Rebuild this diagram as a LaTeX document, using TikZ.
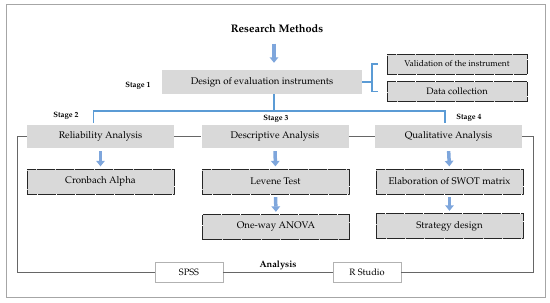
\documentclass[tikz,border=0pt]{standalone}
\usepackage[T1]{fontenc}
\usepackage{mathpazo}
\usetikzlibrary{arrows.meta}
\definecolor{arrowblue}{HTML}{7EA6DC}
\definecolor{lineblue}{HTML}{5B9BD5}
\begin{document}
\begin{tikzpicture}[
    x=0.4mm, y=-0.4mm,
    box/.style={fill=gray!30, minimum width=58.8mm, minimum height=9.2mm, inner sep=1pt, font=\fontsize{11}{13}\selectfont},
    res/.style={box, draw=black!85, line width=0.35pt, dash pattern=on 0.6pt off 0.6pt, minimum height=10mm},
    side/.style={res, minimum width=56mm, minimum height=8mm, font=\fontsize{9.6}{11}\selectfont},
    tool/.style={draw=gray!60, fill=white, minimum width=27mm, minimum height=8mm, font=\fontsize{10.5}{12}\selectfont},
    stage/.style={font=\fontsize{8.8}{10}\selectfont\bfseries},
    flow/.style={-{Triangle[length=2.2mm, width=3.4mm]}, line width=1.4mm, arrowblue},
    tree/.style={lineblue, line width=0.5mm},
    frame/.style={gray!80!black, line width=0.35mm},
]
\useasboundingbox (0,0) rectangle (550,302);
\draw[gray!70, line width=0.35mm] (6,4) rectangle (545,297);

% Stage 1
\node[font=\fontsize{12.5}{15}\selectfont\bfseries] (title) at (277,29) {Research Methods};
\node[box, minimum width=80mm, minimum height=9.6mm] (design) at (262,82) {Design of evaluation instruments};
\node[stage] (s1) at (138,86) {Stage 1};
\node[side] (valid) at (457,64) {Validation of the instrument};
\node[side, font=\fontsize{10.6}{12}\selectfont] (datac) at (457,91.5) {Data collection};
\draw[flow, shorten <=3mm, shorten >=2.8mm] (title.south -| 274,0) -- (design.north -| 274,0);
\coordinate (brk) at (372,82);
\draw[tree] (design.east) -- (brk);
\draw[tree] ([xshift=-3.6mm]valid.west) -| (brk) |- ([xshift=-3.6mm]datac.west);

% Stages 2 to 4
\node[box] (rel) at (100.5,136.5) {Reliability Analysis};
\node[box] (desc) at (275,136.5) {Descriptive Analysis};
\node[box] (qual) at (448.5,136.5) {Qualitative Analysis};
\node[stage] (s2) at (66,116) {Stage 2};
\node[stage] (s3) at (276,119) {Stage 3};
\node[stage] (s4) at (469,118) {Stage 4};
\coordinate (split) at (274,111);
\draw[tree] (design.south -| split) -- (split);
\draw[tree] ([xshift=-2.8mm, yshift=0.8mm]rel.north) |- (split) -| ([xshift=-1.4mm, yshift=0.8mm]qual.north);

% Results
\node[res] (cron) at (100.5,181.5) {Cronbach Alpha};
\node[res] (lev) at (275.5,181.5) {Levene Test};
\node[res] (swot) at (449.5,181.5) {Elaboration of SWOT matrix};
\node[res] (anova) at (276,227) {One-way ANOVA};
\node[res] (strat) at (449.5,226) {Strategy design};
\foreach \a/\b in {rel/cron, desc/lev, qual/swot, lev/anova, swot/strat} {
  \draw[flow, shorten <=1.2mm, shorten >=1mm] (\a.south) -- (\b.north);
}

% Analysis frame
\node[tool] (spss) at (189,272) {SPSS};
\node[tool] (rstudio) at (367,272) {R Studio};
\node[font=\fontsize{10.5}{12}\selectfont\bfseries] (anl) at (278,265) {Analysis};
\draw[frame] (rel.west) -| (17,272) -- (spss.west);
\draw[frame] (spss.east) -- (rstudio.west);
\draw[frame] (rstudio.east) -| (533,136.5) -- (qual.east);
\draw[frame] (rel.east) -- (desc.west);
\draw[frame] (desc.east) -- (qual.west);
\end{tikzpicture}
\end{document}
